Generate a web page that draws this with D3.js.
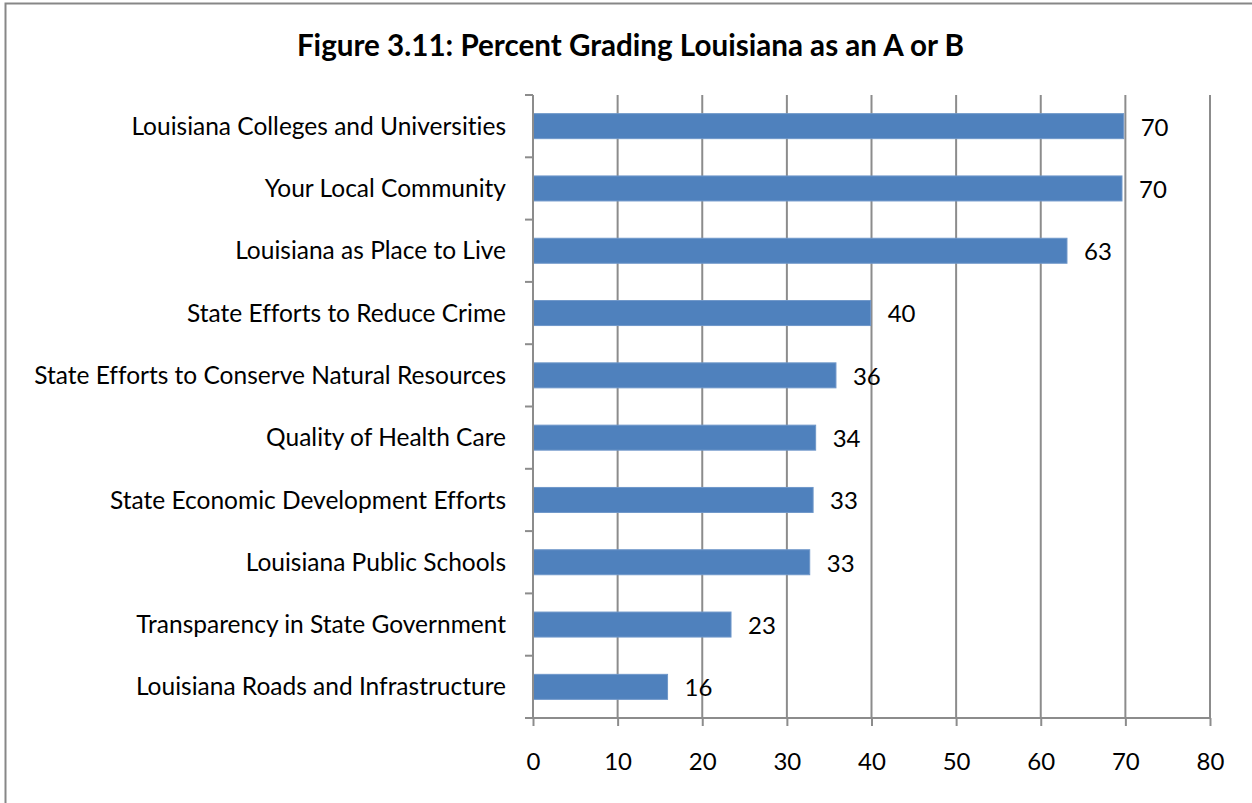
<!DOCTYPE html>
<html><head><meta charset="utf-8">
<script src="https://cdn.jsdelivr.net/npm/d3@7"></script>
<style>body{margin:0;background:#fff}svg{display:block}text{font-family:Lato,"Open Sans",sans-serif;fill:#000;font-variant-ligatures:none;font-feature-settings:"liga" 0}</style>
</head><body>
<svg id="c" width="1252" height="803"></svg>
<script>
const title = "Figure 3.11: Percent Grading Louisiana as an A or B";
const categories = ["Louisiana Colleges and Universities","Your Local Community","Louisiana as Place to Live","State Efforts to Reduce Crime","State Efforts to Conserve Natural Resources","Quality of Health Care","State Economic Development Efforts","Louisiana Public Schools","Transparency in State Government","Louisiana Roads and Infrastructure"];
const values = [69.8,69.6,63.1,39.9,35.8,33.4,33.1,32.7,23.4,15.9];
const labels = ["70","70","63","40","36","34","33","33","23","16"];
const xTicks = [0,10,20,30,40,50,60,70,80];

const svg = d3.select("#c");
svg.append("rect").attr("x",5.5).attr("y",3.5).attr("width",1260).attr("height",820).attr("fill","#fff").attr("stroke","#878787").attr("stroke-width",2);

const x = d3.scaleLinear().domain([0,80]).range([533,1210]);
const band = d3.scaleBand().domain(categories).range([95,718]);

svg.append("text").attr("x",630.5).attr("y",56).attr("text-anchor","middle").attr("font-weight","bold").attr("font-size",29.6).text(title);

const g = svg.append("g");
g.selectAll("line.grid").data(xTicks.slice(1)).join("line").attr("class","grid")
 .attr("x1",d=>x(d)).attr("x2",d=>x(d)).attr("y1",95).attr("y2",718).attr("stroke","#8c8c8c").attr("stroke-width",2);

g.selectAll("rect.bar").data(values).join("rect").attr("class","bar")
 .attr("x",x(0)).attr("y",(d,i)=>band(categories[i])+band.bandwidth()/2-12.5)
 .attr("width",d=>x(d)-x(0)).attr("height",25).attr("fill","#4f81bd").attr("stroke","#6f97c9").attr("stroke-width",1);

const xa = svg.append("g").attr("transform","translate(0,718)")
 .call(d3.axisBottom(x).tickValues(xTicks).tickSize(8).tickSizeOuter(0).tickPadding(27));
xa.select(".domain").attr("stroke","#8c8c8c").attr("stroke-width",2).attr("d","M525,0H1210");
xa.selectAll(".tick line").attr("stroke","#8c8c8c").attr("stroke-width",2);
xa.selectAll(".tick text").attr("font-size",24).attr("font-family","Lato").style("font-variant-ligatures","none");

const ya = svg.append("g").attr("transform","translate(533,0)");
ya.append("line").attr("x1",0).attr("x2",0).attr("y1",95).attr("y2",718).attr("stroke","#8c8c8c").attr("stroke-width",2);
const bounds = categories.map(c=>band(c)).concat([718]);
ya.selectAll("line.tk").data(bounds).join("line").attr("class","tk")
 .attr("x1",-8).attr("x2",0).attr("y1",d=>d).attr("y2",d=>d).attr("stroke","#8c8c8c").attr("stroke-width",2);

svg.selectAll("text.cat").data(categories).join("text").attr("class","cat")
 .attr("x",506).attr("y",c=>band(c)+band.bandwidth()/2).attr("dy","0.35em")
 .attr("text-anchor","end").attr("font-size",24.5).text(d=>d);

svg.selectAll("text.val").data(values).join("text").attr("class","val")
 .attr("x",d=>x(d)+17).attr("y",(d,i)=>band(categories[i])+band.bandwidth()/2+1).attr("dy","0.35em")
 .attr("font-size",24).text((d,i)=>labels[i]);
</script>
</body></html>
